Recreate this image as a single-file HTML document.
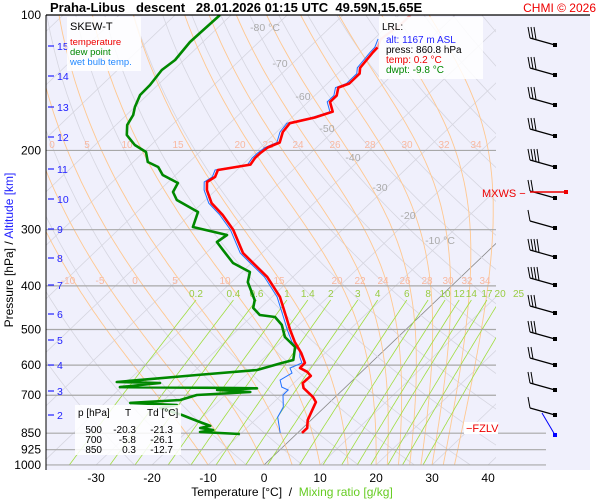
<!DOCTYPE html>
<html><head><meta charset="utf-8"><style>
body{margin:0;background:#fff;width:600px;height:500px;overflow:hidden;font-family:"Liberation Sans",sans-serif}
svg{display:block}
</style></head><body>
<svg id="chart" width="600" height="500" xmlns="http://www.w3.org/2000/svg" font-family="Liberation Sans, sans-serif">
<rect x="46" y="15" width="544" height="455" fill="#f0f0fc"/>
<defs><clipPath id="pc"><rect x="46" y="15" width="450" height="450"/></clipPath>
<clipPath id="pc2"><rect x="46" y="15" width="500" height="455"/></clipPath></defs>
<g id="grid" clip-path="url(#pc)"></g>
<g id="hlines"></g>
<g id="labels"></g>
<g id="profiles" clip-path="url(#pc2)"></g>
<g id="barbs"></g>
<line x1="46" y1="15" x2="590" y2="15" stroke="#000" stroke-width="1.2"/>
<line x1="46" y1="15" x2="46" y2="470" stroke="#000" stroke-width="1"/>
<text x="50" y="12" font-size="13" font-weight="bold" xml:space="preserve">Praha-Libus   descent   28.01.2026 01:15 UTC  49.59N,15.65E</text>
<text x="596" y="12" font-size="12" fill="#e00" text-anchor="end">CHMI © 2026</text>
<g>
<rect x="67" y="17" width="74" height="54" fill="#fff" opacity="0.85"/>
<text x="70" y="30" font-size="11">SKEW-T</text>
<text x="70" y="45" font-size="9.5" fill="#e00">temperature</text>
<text x="70" y="55" font-size="9.5" fill="#080">dew point</text>
<text x="70" y="65" font-size="9.5" fill="#28f">wet bulb temp.</text>
</g>
<g font-size="10">
<rect x="379" y="17" width="104" height="62" fill="#fff" opacity="0.85"/>
<text x="382" y="30">LRL:</text>
<text x="386" y="43" fill="#22f">alt: 1167 m ASL</text>
<text x="386" y="53">press: 860.8 hPa</text>
<text x="386" y="63" fill="#e00">temp: 0.2 °C</text>
<text x="386" y="73" fill="#080">dwpt: -9.8 °C</text>
</g>
<g font-size="10">
<rect x="75" y="405" width="106" height="50" fill="#fff" opacity="0.85"/>
<text x="78" y="416">p [hPa]</text><text x="128" y="416" text-anchor="middle">T</text><text x="147" y="416">Td [°C]</text>
<text x="102" y="433" text-anchor="end">500</text><text x="136" y="433" text-anchor="end">-20.3</text><text x="173" y="433" text-anchor="end">-21.3</text>
<text x="102" y="443" text-anchor="end">700</text><text x="136" y="443" text-anchor="end">-5.8</text><text x="173" y="443" text-anchor="end">-26.1</text>
<text x="102" y="453" text-anchor="end">850</text><text x="136" y="453" text-anchor="end">0.3</text><text x="173" y="453" text-anchor="end">-12.7</text>
</g>
<text transform="translate(13,250) rotate(-90)" font-size="12" text-anchor="middle"><tspan>Pressure [hPa]  /  </tspan><tspan fill="#22f">Altitude [km]</tspan></text>
<text x="292" y="496" font-size="12" text-anchor="middle" xml:space="preserve">Temperature [°C]  /  <tspan fill="#6c2">Mixing ratio [g/kg]</tspan></text>
<g><rect x="464" y="422" width="34" height="12" fill="#fff"/><text x="466" y="432" font-size="11" fill="#e00">−FZLV</text></g>
<text x="482" y="197" font-size="11" fill="#e00">MXWS −</text>
</svg>
<script>
const tempP=[849,828,795,725,706,675,658,634,621,609,593,564,533,501,476,423,382,356,338,300,278,262,245,235,229,221,215,208,203,197,192,182,174,169,164,156,151,145,142,135,131,121,118,113,105,100];
const tempT=[0.8,0.8,-0.6,-2.5,-4.0,-7.3,-8.4,-8.3,-9.7,-11.7,-11.8,-14.3,-17.5,-20.6,-23.0,-28.6,-34.6,-39.7,-43.4,-49.5,-54.2,-58.3,-61.6,-63.1,-62.6,-63.4,-58.6,-59.0,-59.0,-58.7,-57.5,-58.9,-59.3,-55.9,-53.8,-56.1,-56.1,-57.3,-56.1,-56.1,-57.1,-57.7,-57.8,-58.8,-57.9,-58.0];
const dewP=[853.6,845,836.5,827.9,819.1,802.8,774.5,747.3,735.8,728.2,717.2,699.1,688.4,681.5,675.5,674.7,671.3,657.5,654.2,631.1,615.3,593.6,584.5,546.9,519.5,488.5,469.1,464.2,447.8,430.1,392.3,372.5,355.8,333,319.6,308.3,295.9,274,257.8,247.4,236.3,226.8,217.7,212.2,201.6,194.5,184.8,175.6,166.8,160.1,150.6,143.1,132.5,125.9,114.8,109.6,100];
const dewT=[-10.1,-17.6,-15.6,-18.3,-16.9,-19.5,-24.0,-29.2,-26.8,-35.5,-27.1,-25.1,-16.1,-22.4,-15.6,-19.2,-40.3,-33.9,-41.8,-28.8,-19.0,-15.9,-14.4,-16.5,-20.2,-23.0,-25.7,-28.8,-31.3,-32.5,-37.1,-38.6,-43.3,-47.5,-50.1,-49.6,-57.2,-59.1,-65.1,-67.3,-68.1,-72.3,-74.6,-77.4,-79.6,-82.9,-86.2,-88.0,-88.8,-90.0,-91.3,-91.4,-92.1,-91.6,-92.3,-92.2,-92.0];
const wbP=[849,783,743.4,699.1,681.5,671.3,647.7,624.6,608.9,593.6,575.6,560,533,501,476,423,382,356,338,300,278,262,245,235,229,221,215,208,203,197,192,182,174,169,164,156,151,145,142,135,131,121,118,113];
const wbT=[-3.1,-6.5,-7.4,-9.7,-9.7,-11.4,-13.0,-12.2,-13.5,-12.3,-13.8,-14.8,-18.0,-21.1,-23.5,-29.1,-35.1,-40.2,-43.9,-50.0,-54.7,-58.8,-62.1,-63.6,-63.1,-63.9,-59.1,-59.5,-59.5,-59.2,-58.0,-59.4,-59.8,-56.4,-54.3,-56.6,-56.6,-57.8,-56.6,-56.6,-57.6,-58.2,-58.3,-59.3];
const pressureTicks=[100,200,300,400,500,600,700,850,925,1000];
const tempTicks=[-30,-20,-10,0,10,20,30,40];
const altTicks=[15,14,13,12,11,10,9,8,7,6,5,4,3,2];
const altTickY=[46,76,107,137,169,199,229,258,285,314,340,365,391,415];
const isotherms=[-120,-110,-100,-90,-80,-70,-60,-50,-40,-30,-20,-10,0,10,20,30,40];
const isoLabels=[-80,-70,-60,-50,-40,-30,-20,-10];
const dryAdiabats=[250,260,270,280,290,300,310,320,330,340,350,360,370,380,390,400,410,420,430,440,450,460,470,480,490,500,510,520];
const moistAdiabats=[-10,-5,0,5,10,15,20,22,24,26,28,30,32,34];
const mixRatios=[0.2,0.4,0.6,1,1.4,2,3,4,6,8,10,12,14,17,20,25];
const barbY=[45,75,105,136,167,198,228,257,285,313,339,365,390,415];
const barbFeathers=[3,3,3,3,4,2,1,4,4,3,3,2,2,1];

const NS='http://www.w3.org/2000/svg';
function yOf(p){return 15+195.4*Math.log(p/100);}
function xOf(T,p){return 264+5.6*T+1.047*(465-yOf(p));}
function el(tag,attrs,parent){const e=document.createElementNS(NS,tag);for(const k in attrs)e.setAttribute(k,attrs[k]);parent.appendChild(e);return e;}
function pathFrom(P,T){return P.map((p,i)=>(i?'L':'M')+xOf(T[i],p).toFixed(1)+','+yOf(p).toFixed(1)).join('');}
const grid=document.getElementById('grid'),hl=document.getElementById('hlines'),lab=document.getElementById('labels'),prof=document.getElementById('profiles'),bg=document.getElementById('barbs');
isotherms.forEach(t=>{const l=el('line',{x1:xOf(t,1000),y1:yOf(1000),x2:xOf(t,100),y2:yOf(100),stroke:t===0?'#888':'#d6d6e0','stroke-width':t===0?0.8:0.8},grid);


if(t===0){l.setAttribute('y2',240);l.setAttribute('x2',xOf(0,1000)+225*1.047);}});
dryAdiabats.forEach(th=>{const P=[],T=[];for(let p=1050;p>=95;p-=10){P.push(p);T.push(th*Math.pow(p/1000,0.2857)-273.15);}
const l=el('path',{d:pathFrom(P,T),fill:'none',stroke:'#d6d6e0','stroke-width':0.8},grid);

});
function es(T){return 6.112*Math.exp(17.67*T/(T+243.5));}
moistAdiabats.forEach(tw=>{let T=tw;const P=[],TT=[];for(let p=1000;p>=100;p-=5){P.push(p);TT.push(T);const Tk=T+273.15;const e=es(T);const rs=0.622*e/(p-e);const d=(287*Tk+2.5e6*rs)/(1004+2.5e6*2.5e6*rs*0.622/(287*Tk*Tk))/p;T-=d*5;}
const l=el('path',{d:pathFrom(P,TT),fill:'none',stroke:'#ffc890','stroke-width':0.9},grid);

});
mixRatios.forEach(w=>{const P=[],T=[];for(let p=1000;p>=430;p-=10){const e=w*p/(622+w);const a=Math.log(e/6.112);P.push(p);T.push(243.5*a/(17.67-a));}
const l=el('path',{d:pathFrom(P,T),fill:'none',stroke:'#a0dd40','stroke-width':0.8},grid);


const t=el('text',{x:xOf(T[T.length-1],430),y:297,'font-size':10,fill:'#99cc44','text-anchor':'middle'},lab);t.textContent=String(w);

});
[[0,52],[5,87],[10,127],[15,178],[20,240],[22,268],[24,298],[26,335],[28,370],[30,407],[32,444],[34,476]].forEach(a=>{const t=el('text',{x:a[1],y:148,'font-size':10,fill:'#f8b8a0','text-anchor':'middle'},lab);t.textContent=a[0];

});
[[-10,68],[-5,100],[0,135],[5,175],[10,225],[15,279],[20,337],[22,360],[24,383],[26,405],[28,427],[30,448],[32,467],[34,485]].forEach(a=>{const t=el('text',{x:a[1],y:284,'font-size':10,fill:'#f8b8a0','text-anchor':'middle'},lab);t.textContent=a[0];

});
const isoPos=[[265,31],[280,67],[303,100],[327,132],[353,161],[380,191],[408,219],[440,244]];
isoLabels.forEach((v,i)=>{const t=el('text',{x:isoPos[i][0],y:isoPos[i][1],'font-size':10.5,fill:'#aaa','text-anchor':'middle'},lab);t.textContent=v+(i===0||i===7?' °C':'');

});
pressureTicks.forEach(p=>{const y=yOf(p);if(p>100){const l=el('line',{x1:46,y1:y,x2:p>=850?546:496,y2:y,stroke:'#a8a8a8','stroke-width':1.2},hl);

}
const t=el('text',{x:41,y:y+4,'font-size':12,'text-anchor':'end'},lab);t.textContent=p;

});
tempTicks.forEach(v=>{const t=el('text',{x:xOf(v,1000),y:482,'font-size':12,'text-anchor':'middle'},lab);t.textContent=v;

});
altTicks.forEach((a,i)=>{el('line',{x1:48,y1:altTickY[i],x2:54,y2:altTickY[i],stroke:'#22f','stroke-width':1.2},lab);const t=el('text',{x:57,y:altTickY[i]+4,'font-size':10.5,fill:'#22f'},lab);t.textContent=a;

});
let l=el('path',{d:pathFrom(wbP,wbT),fill:'none',stroke:'#2070ff','stroke-width':1},prof);


l=el('path',{d:pathFrom(dewP,dewT),fill:'none',stroke:'#008800','stroke-width':2.6,'stroke-linejoin':'round'},prof);


const split=tempP.findIndex(p=>p<119);
l=el('path',{d:pathFrom(tempP.slice(0,split+1),tempT.slice(0,split+1)),fill:'none',stroke:'#ff0000','stroke-width':2.6,'stroke-linejoin':'round'},prof);


l=el('path',{d:pathFrom(tempP.slice(split),tempT.slice(split)),fill:'none',stroke:'#f8a8a8','stroke-width':2.4},prof);


barbY.forEach((y,i)=>{const g=el('g',{},bg);


const x0=555,x1=530,y1=y-7;el('line',{x1:x0,y1:y,x2:x1,y2:y1,stroke:'#000','stroke-width':1.2},g);
el('rect',{x:x0-2,y:y-2,width:4,height:4,fill:'#000'},g);
for(let k=0;k<barbFeathers[i];k++){const fx=x1+k*3;el('line',{x1:fx,y1:y1+k*0.8,x2:fx-2,y2:y1-11,stroke:'#000','stroke-width':1},g);}});
el('line',{x1:530,y1:192,x2:566,y2:192,stroke:'#e00','stroke-width':1.5},bg);
el('rect',{x:564,y:190,width:4,height:4,fill:'#e00'},bg);
el('line',{x1:542,y1:413,x2:555,y2:435,stroke:'#00f','stroke-width':1},bg);
el('rect',{x:553,y:433,width:4,height:4,fill:'#00f'},bg);
</script>
</body></html>
